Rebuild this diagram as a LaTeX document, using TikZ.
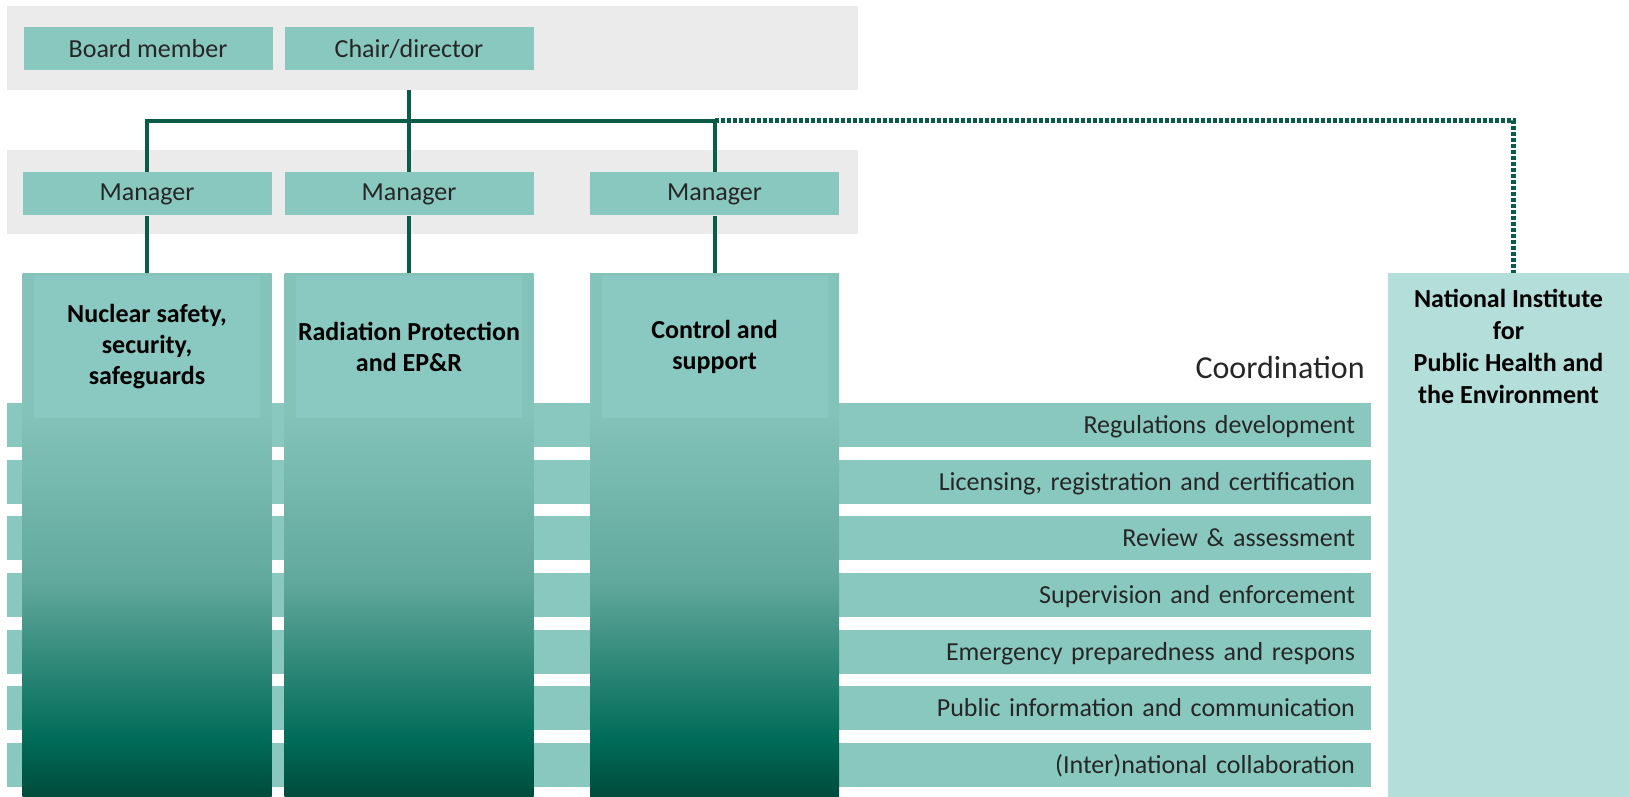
\documentclass[tikz,border=0pt]{standalone}
\usepackage{fontspec}
\setmainfont{Carlito}
\usetikzlibrary{positioning}

\definecolor{bandgray}{HTML}{EBEBEB}
\definecolor{boxteal}{HTML}{89C8BF}
\definecolor{innerteal}{HTML}{89C9C1}
\definecolor{paleteal}{HTML}{B4DED9}
\definecolor{linegreen}{HTML}{0A5C48}
\definecolor{inkgray}{HTML}{262626}
\definecolor{fadetop}{HTML}{83C3B9}
\definecolor{fademid}{HTML}{62A99D}
\definecolor{fadelow}{HTML}{006B58}
\definecolor{fadebot}{HTML}{004B3B}
\pgfdeclareverticalshading{colfade}{100bp}{color(0bp)=(fadebot); color(25bp)=(fadebot);
  color(30.4bp)=(fadelow); color(45.7bp)=(fademid); color(61.5bp)=(fadetop); color(100bp)=(fadetop)}

\begin{document}
\begin{tikzpicture}[
    x=0.5pt, y=-0.5pt,
    band/.style = {fill=bandgray, minimum width=425.5pt, minimum height=42pt, inner sep=0pt},
    rolebox/.style = {fill=boxteal, minimum width=124.5pt, minimum height=21.5pt, inner sep=0pt,
      text=inkgray, font=\fontsize{13}{15}\selectfont},
    column/.style = {shade, shading=colfade, minimum width=124.5pt, minimum height=262pt, inner sep=0pt},
    secbox/.style = {fill=innerteal, minimum width=113pt, minimum height=71pt, inner sep=0pt,
      align=center, font=\bfseries\fontsize{13}{15.5}\selectfont},
    row/.style = {fill=boxteal, minimum width=682pt, minimum height=22pt, inner xsep=8pt, inner ysep=0pt,
      text width=666pt, align=right, text height=8.4pt, text depth=0pt, text=inkgray,
      font=\fontsize{13}{15}\selectfont},
    orgline/.style = {draw=linegreen, line width=2pt},
    linkline/.style = {draw=linegreen, line width=2.5pt, dash pattern=on 2pt off 1pt}
  ]
  \useasboundingbox (0,0) rectangle (1629,797);

  % board level and managers
  \node[band] (topband) at (432.5,48) {};
  \node[band] (midband) at (432.5,192) {};
  \node[rolebox] (board) at (148,49) {Board member};
  \node[rolebox] (chair) at (409,49) {Chair/director};
  \node[rolebox] (mgr1) at (147,194) {Manager};
  \node[rolebox] (mgr2) at (409,194) {Manager};
  \node[rolebox] (mgr3) at (714.5,194) {Manager};

  % coordination tasks
  \foreach \task [count=\i] in {Regulations development,
      {Licensing, registration and certification}, Review \& assessment,
      Supervision and enforcement, Emergency preparedness and respons,
      Public information and communication, (Inter)national collaboration}
    \node[row] (row\i) at (689,{425+56.67*(\i-1)}) {\task};
  \node[anchor=base east, inner sep=0pt, text=inkgray, font=\fontsize{16}{19}\selectfont]
    (coord) at (1365,378) {Coordination};

  % departments
  \node[column] (col1) at (147,535) {};
  \node[column] (col2) at (409,535) {};
  \node[column] (col3) at (714.5,535) {};
  \node[secbox] (sec1) at (147,347) {Nuclear safety,\\security,\\safeguards};
  \node[secbox] (sec2) at (409,347) {Radiation Protection\\and EP\&R};
  \node[secbox] (sec3) at (714.5,347) {Control and\\support};

  \node[fill=paleteal, minimum width=120.5pt, minimum height=262pt, inner sep=0pt] (rivm) at (1508.5,535) {};
  \node[align=center, font=\bfseries\fontsize{13}{16}\selectfont] (rivmtext) at (1508.5,346)
    {National Institute\\for\\Public Health and\\the Environment};

  \coordinate (bus) at (0,121);
  \draw[orgline] (topband.south -| chair.south) -- (mgr2.north);
  \draw[orgline] (mgr1.north) -- (mgr1.north |- bus) -- (mgr3.north |- bus) -- (mgr3.north);
  \draw[linkline] (mgr3.north |- bus) -| ([xshift=2.5pt]rivm.north);
  \foreach \i in {1,2,3}
    \draw[orgline] (mgr\i.south) -- (col\i.north);
\end{tikzpicture}
\end{document}
